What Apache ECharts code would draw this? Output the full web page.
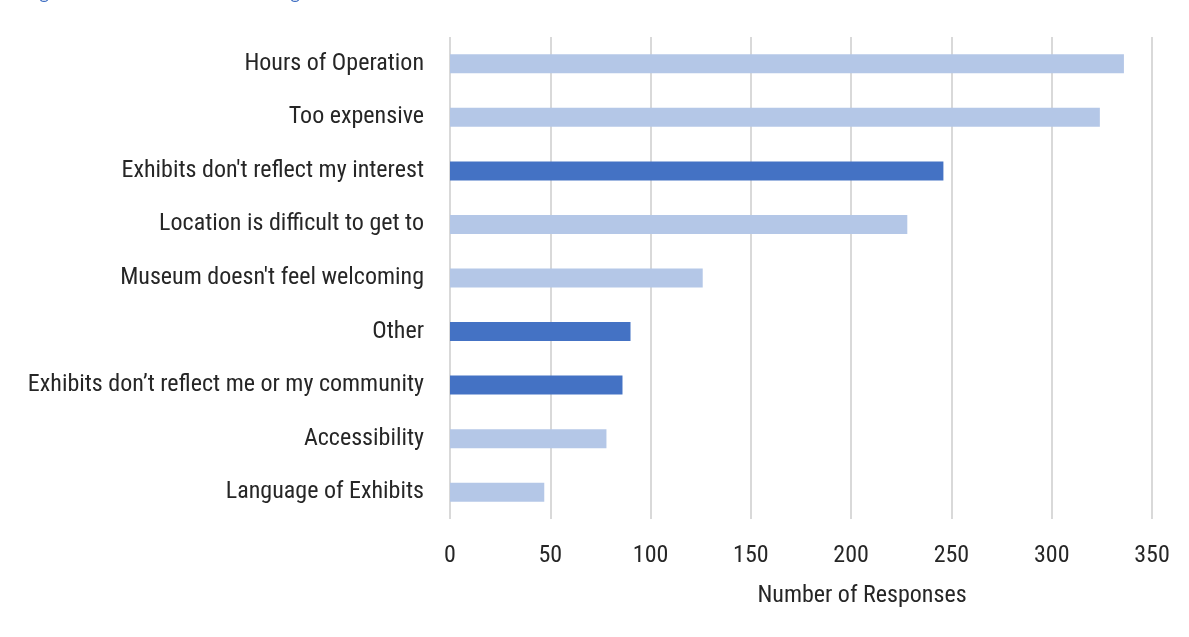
<!DOCTYPE html>
<html>
<head>
<meta charset="utf-8">
<script src="https://cdn.jsdelivr.net/npm/echarts@6/dist/echarts.min.js"></script>
<style>
  html, body { margin: 0; padding: 0; background: #ffffff; }
  #chart { width: 1189px; height: 637px; }
</style>
</head>
<body>
<div id="chart"></div>
<script>
// Reasons given for not visiting, ordered from most to least frequent
const categories = [
  'Hours of Operation',
  'Too expensive',
  "Exhibits don't reflect my interest",
  'Location is difficult to get to',
  "Museum doesn't feel welcoming",
  'Other',
  'Exhibits don\u2019t reflect me or my community',
  'Accessibility',
  'Language of Exhibits'
];
const responses = [336, 324, 246, 228, 126, 90, 86, 78, 47];
// Reasons drawn in the darker accent colour
const highlighted = [
  "Exhibits don't reflect my interest",
  'Other',
  'Exhibits don\u2019t reflect me or my community'
];
const xTicks = [0, 50, 100, 150, 200, 250, 300, 350];

const LIGHT = '#B4C7E7';
const DARK = '#4472C4';
const LABEL_FONT = '"Arial Narrow", "Roboto Condensed", sans-serif';

const chart = echarts.init(document.getElementById('chart'), null, { renderer: 'canvas' });

chart.setOption({
  animation: false,
  backgroundColor: '#ffffff',
  title: {
    text: 'Figure 12: Reasons for Not Visiting a Museum',
    left: 20,
    top: -21,
    textStyle: { color: '#4472C4', fontSize: 18, fontWeight: 'normal', fontFamily: 'Lato, "Open Sans", sans-serif' }
  },
  grid: { left: 450, right: 37, top: 37, bottom: 118, containLabel: false, outerBoundsMode: 'none' },
  xAxis: {
    type: 'value',
    min: xTicks[0],
    max: xTicks[xTicks.length - 1],
    interval: xTicks[1] - xTicks[0],
    name: 'Number of Responses',
    nameLocation: 'middle',
    nameGap: 61,
    nameTextStyle: { color: '#262626', fontSize: 24, fontFamily: LABEL_FONT, padding: [4, 0, 0, 122] },
    axisLine: { show: false },
    axisTick: { show: false },
    axisLabel: { color: '#262626', fontSize: 24, fontFamily: LABEL_FONT, margin: 22, padding: [3, 0, 0, 0] },
    splitLine: { show: true, lineStyle: { color: '#D9D9D9', width: 2 } }
  },
  yAxis: {
    type: 'category',
    data: categories,
    inverse: true,
    axisLine: { show: false },
    axisTick: { show: false },
    axisLabel: { color: '#262626', fontSize: 24, fontFamily: LABEL_FONT, margin: 26, padding: [8, 0, 0, 0] }
  },
  series: [{
    type: 'bar',
    barWidth: 19,
    data: responses.map((v, i) => ({
      value: v,
      itemStyle: { color: highlighted.includes(categories[i]) ? DARK : LIGHT }
    }))
  }]
});
</script>
</body>
</html>
